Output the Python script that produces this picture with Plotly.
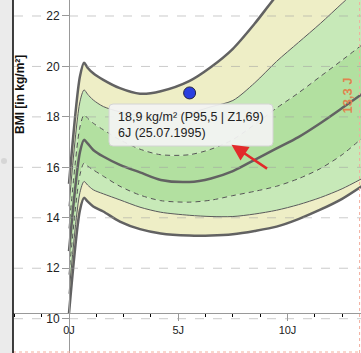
import plotly.graph_objects as go

# ---------------- data ----------------
ages = [0, 0.5, 0.69, 0.85, 1.11, 1.57, 2.33, 3.25, 4.2, 5.5, 6.5, 7.5, 8.5, 9.5, 10.5, 11.5, 12.5, 13.4]
p3  = [10.21, 14.30, 14.79, 14.65, 14.45, 14.25, 13.85, 13.55, 13.38, 13.30, 13.30, 13.35, 13.48, 13.65, 13.95, 14.32, 14.75, 15.25]
p10 = [10.99, 15.00, 15.44, 15.30, 15.11, 14.95, 14.71, 14.42, 14.22, 14.10, 14.05, 14.05, 14.15, 14.30, 14.52, 14.80, 15.15, 15.55]
p25 = [11.75, 15.70, 16.17, 16.05, 15.90, 15.65, 15.25, 14.90, 14.68, 14.62, 14.70, 14.88, 15.05, 15.25, 15.55, 15.95, 16.50, 17.15]
p50 = [12.68, 16.60, 17.09, 16.95, 16.69, 16.43, 16.10, 15.80, 15.50, 15.42, 15.56, 15.85, 16.30, 16.75, 17.20, 17.75, 18.35, 18.90]
p75 = [13.58, 17.60, 18.08, 17.95, 17.75, 17.49, 17.09, 16.72, 16.50, 16.50, 16.72, 17.10, 17.70, 18.35, 18.95, 19.60, 20.25, 20.85]
p90 = [14.46, 18.60, 19.07, 18.90, 18.67, 18.41, 18.20, 18.05, 18.00, 18.15, 18.40, 18.65, 19.35, 20.20, 20.95, 21.70, 22.50, 23.20]
p97 = [15.35, 19.60, 20.15, 19.95, 19.73, 19.47, 19.14, 18.92, 19.02, 19.42, 19.98, 20.70, 21.70, 22.80, 23.70, 24.60, 25.40, 26.00]

patient_age = [5.52]
patient_bmi = [18.95]
current_age = 13.3

y_ticks = [10, 12, 14, 16, 18, 20, 22]
x_ticks = [0, 5, 10]
x_ticktext = ["0J", "5J", "10J"]

tooltip_lines = ["18,9 kg/m² (P95,5 | Z1,69)", "6J (25.07.1995)"]
age_label = "13,3 J"
y_title = "BMI [in kg/m²]"

# ---------------- geometry ----------------
W, H = 361, 353
LEFT = 13
X_RANGE = [-2.563, 13.364]
Y_RANGE = [8.64, 22.634]

YELLOW = "#eeeec6"
LIGHT = "#c7e9b8"
MID = "#b2e0a0"
FONT = "Liberation Sans, Arial, Helvetica, sans-serif"

def px(xp):
    return xp / W

def py(yp):
    return 1 - yp / H

fig = go.Figure()

bands = [(p3, p10, YELLOW), (p10, p25, LIGHT), (p25, p50, MID),
         (p50, p75, MID), (p75, p90, LIGHT), (p90, p97, YELLOW)]
SMOOTH = 0.8
for lo, hi, col in bands:
    fig.add_trace(go.Scatter(x=ages, y=lo, mode="lines",
                             line=dict(width=0, shape="spline", smoothing=SMOOTH),
                             hoverinfo="skip", showlegend=False))
    fig.add_trace(go.Scatter(x=ages, y=hi, mode="lines", fill="tonexty", fillcolor=col,
                             line=dict(width=0, shape="spline", smoothing=SMOOTH),
                             hoverinfo="skip", showlegend=False))

styles = [
    (p3, 2.5, "#626262", "solid"),
    (p10, 1, "#5a5a5a", "solid"),
    (p25, 1, "#555555", "5px,4px"),
    (p50, 2.5, "#626262", "solid"),
    (p75, 1, "#555555", "5px,4px"),
    (p90, 1, "#5a5a5a", "solid"),
    (p97, 2.5, "#626262", "solid"),
]
for vals, w, c, d in styles:
    fig.add_trace(go.Scatter(x=ages, y=vals, mode="lines",
                             line=dict(width=w, color=c, dash=d, shape="spline", smoothing=SMOOTH),
                             hoverinfo="skip", showlegend=False))

fig.add_trace(go.Scatter(x=patient_age, y=patient_bmi, mode="markers",
                         marker=dict(size=12, color="#2a3fe0", line=dict(color="#222244", width=1)),
                         hoverinfo="skip", showlegend=False))

shapes = []
# dashed grid lines (above the fills)
for v in y_ticks:
    shapes.append(dict(type="line", xref="paper", yref="y", x0=px(LEFT + 1), x1=px(41), y0=v, y1=v,
                       line=dict(color="rgba(160,160,160,0.55)", width=1, dash="dash"), layer="above"))
    shapes.append(dict(type="line", xref="x", yref="y", x0=0, x1=X_RANGE[1], y0=v, y1=v,
                       line=dict(color="rgba(160,160,160,0.55)", width=1, dash="dash"), layer="above"))

# current age marker line
shapes.append(dict(type="line", xref="x", yref="paper", x0=current_age, x1=current_age, y0=0, y1=1,
                   line=dict(color="#f3ad9c", width=1, dash="dot"), layer="above"))
shapes.append(dict(type="line", xref="paper", yref="paper", x0=px(LEFT), x1=1, y0=py(352), y1=py(352),
                   line=dict(color="#f3ad9c", width=1, dash="dot"), layer="above"))

# left border line
shapes.append(dict(type="line", xref="paper", yref="paper", x0=px(LEFT), x1=px(LEFT), y0=0, y1=1,
                   line=dict(color="#000000", width=1.5), layer="above"))
# small dot in the side strip
shapes.append(dict(type="circle", xref="paper", yref="paper", x0=px(1), x1=px(7), y0=py(164), y1=py(158),
                   fillcolor="#d6d6d6", line=dict(width=0), layer="above"))

# tooltip rounded box
bx0, bx1, by0, by1 = 109, 273, 104, 146
r = 4
path = (f"M {px(bx0 + r)},{py(by0)} L {px(bx1 - r)},{py(by0)} Q {px(bx1)},{py(by0)} {px(bx1)},{py(by0 + r)} "
        f"L {px(bx1)},{py(by1 - r)} Q {px(bx1)},{py(by1)} {px(bx1 - r)},{py(by1)} "
        f"L {px(bx0 + r)},{py(by1)} Q {px(bx0)},{py(by1)} {px(bx0)},{py(by1 - r)} "
        f"L {px(bx0)},{py(by0 + r)} Q {px(bx0)},{py(by0)} {px(bx0 + r)},{py(by0)} Z")
shapes.append(dict(type="path", xref="paper", yref="paper", path=path,
                   fillcolor="rgba(243,243,243,0.93)", line=dict(color="#d4d4d4", width=1), layer="above"))

annotations = [
    dict(xref="paper", yref="paper", x=px(20), y=py(95), xanchor="center", yanchor="middle",
         text=f"<b>{y_title}</b>", textangle=-90,
         showarrow=False, font=dict(size=12, color="#111", family=FONT)),
    dict(xref="paper", yref="paper", x=px(116), y=py(125), xanchor="left", yanchor="middle",
         text="<br>".join(tooltip_lines), align="left", showarrow=False,
         font=dict(size=12.5, color="#222", family=FONT)),
    dict(xref="x", yref="paper", x=current_age, xshift=-13, y=py(96), xanchor="center", yanchor="middle",
         text=f"<b>{age_label}</b>", textangle=-90,
         showarrow=False, font=dict(size=13, color="#e0844f", family=FONT)),
    dict(xref="x", yref="y", x=7.44, y=16.9, ax=37, ay=25, text="", showarrow=True,
         arrowhead=2, arrowsize=1.3, arrowwidth=2.5, arrowcolor="#e22a2a", standoff=0),
]

fig.update_layout(
    width=W, height=H, margin=dict(l=0, r=0, t=0, b=0),
    paper_bgcolor="#ebebeb", plot_bgcolor="white",
    font=dict(family=FONT, size=12, color="#222"),
    showlegend=False,
    shapes=shapes, annotations=annotations,
    xaxis=dict(domain=[px(LEFT), 1], range=X_RANGE, anchor="free", position=py(313),
               showline=True, linecolor="#999", linewidth=1,
               tickvals=x_ticks, ticktext=x_ticktext, ticks="outside", ticklen=7, tickcolor="#999",
               tickfont=dict(size=11, color="#222"),
               minor=dict(tick0=0, dtick=1.25, ticks="outside", ticklen=3, tickcolor="#000", showgrid=False),
               showgrid=False, zeroline=False, layer="above traces"),
    yaxis=dict(domain=[0, 1], range=Y_RANGE, anchor="free", position=px(69),
               showline=True, linecolor="#999", linewidth=1,
               tickvals=y_ticks, ticks="outside", ticklen=7, tickcolor="#999",
               tickfont=dict(size=12, color="#222"),
               showgrid=False, zeroline=False, layer="above traces"),
)

fig.write_html("out.html")
